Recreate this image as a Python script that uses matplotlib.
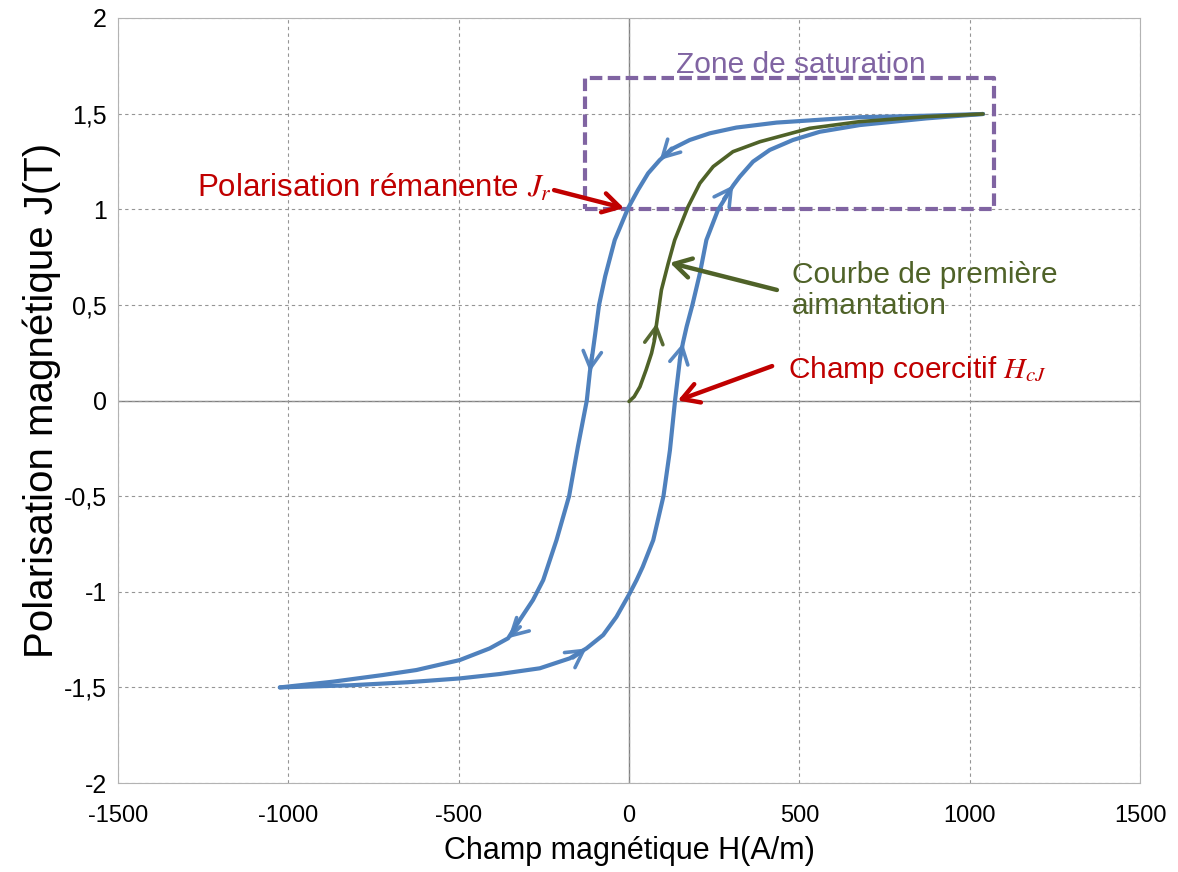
import numpy as np
import matplotlib.pyplot as plt

# Hysteresis loop data (H in A/m, J in T)
desc_H = [1039, 873, 677, 579, 433, 315, 237, 178, 129, 90, 56, 26, -3, -42, -70, -88,
          -100, -110, -115, -124, -150, -176, -213, -252, -282, -321, -355, -409, -497,
          -624, -722, -869, -1025]
desc_J = [1.498, 1.489, 1.481, 1.470, 1.453, 1.427, 1.397, 1.362, 1.318, 1.257, 1.188,
          1.10, 1.005, 0.839, 0.65, 0.50, 0.34, 0.21, 0.15, 0.0, -0.24, -0.50, -0.73,
          -0.939, -1.043, -1.148, -1.243, -1.296, -1.357, -1.409, -1.435, -1.470, -1.50]
desc_arrows = [9, 18, 26]

asc_H = [-1025, -820, -650, -497, -380, -262, -174, -125, -76, -37, 2, 22, 40, 71, 101,
         120, 135, 149, 158, 169, 186, 208, 227, 261, 291, 306, 325, 364, 413, 481, 560,
         677, 873, 1039]
asc_J = [-1.50, -1.489, -1.473, -1.453, -1.43, -1.40, -1.348, -1.296, -1.226, -1.131,
         -1.008, -0.939, -0.87, -0.73, -0.50, -0.26, 0.0, 0.21, 0.30, 0.386, 0.50, 0.665,
         0.839, 0.996, 1.083, 1.125, 1.17, 1.249, 1.31, 1.362, 1.405, 1.44, 1.475, 1.498]
asc_arrows = [7, 18, 25]

first_H = [0, 15, 32, 50, 66, 74, 81, 95, 115, 134, 173, 208, 247, 305, 384, 530, 677,
           873, 1039]
first_J = [-0.005, 0.02, 0.072, 0.16, 0.247, 0.31, 0.404, 0.578, 0.717, 0.839, 1.013,
           1.136, 1.223, 1.301, 1.353, 1.423, 1.458, 1.484, 1.498]
first_arrows = [6]

xticks = [-1500, -1000, -500, 0, 500, 1000, 1500]
yticks = [-2, -1.5, -1, -0.5, 0, 0.5, 1, 1.5, 2]
ytick_labels = ["-2", "-1,5", "-1", "-0,5", "0", "0,5", "1", "1,5", "2"]

# saturation zone (H range, J range)
sat_H = [-130, 1070]
sat_J = [1.0, 1.685]

blue = "#4F81BD"
green = "#4F6228"
red = "#C00000"
purple = "#8064A2"

plt.rcParams['font.family'] = ['Liberation Sans', 'DejaVu Sans']
plt.rcParams['mathtext.fontset'] = 'stix'
plt.rcParams['axes.unicode_minus'] = False

fig = plt.figure(figsize=(11.78, 8.72), dpi=100)
ax = fig.add_axes([0.1002, 0.102, 0.8676, 0.8774])
ax.set_xlim(-1500, 1500)
ax.set_ylim(-2, 2)

# grid and zero axes
ax.set_xticks(xticks)
ax.set_yticks(yticks)
ax.set_yticklabels(ytick_labels)
ax.grid(True, color='#959595', linestyle=(0, (3, 3)), linewidth=0.8)
ax.axhline(0, color='#808080', linewidth=1.0, zorder=1)
ax.axvline(0, color='#808080', linewidth=1.0, zorder=1)
for s in ax.spines.values():
    s.set_color('#b3b3b3')
ax.tick_params(length=0)
ax.tick_params(axis='y', labelsize=18, pad=8)
ax.tick_params(axis='x', labelsize=17, pad=16)

ax.set_xlabel("Champ magnétique H(A/m)", fontsize=22, labelpad=6)
ax.set_ylabel("Polarisation magnétique J(T)", fontsize=29, labelpad=2)

# curves
line_kw = dict(solid_capstyle='round', solid_joinstyle='round')
ax.plot(desc_H, desc_J, color=blue, linewidth=3, zorder=3, **line_kw)
ax.plot(asc_H, asc_J, color=blue, linewidth=3, zorder=3, **line_kw)
ax.plot(first_H, first_J, color=green, linewidth=2.6, zorder=4, **line_kw)


def curve_arrows(h, j, idx, color):
    # open chevron heads pointing along the curve direction
    for i in idx:
        p0 = ax.transData.transform((h[i - 1], j[i - 1]))
        p1 = ax.transData.transform((h[i + 1], j[i + 1]))
        d = (p1 - p0) / np.hypot(*(p1 - p0))
        ax.annotate('', xy=(h[i], j[i]), xytext=(-d[0] * 12, -d[1] * 12),
                    textcoords='offset points',
                    arrowprops=dict(arrowstyle='->,head_length=0.6,head_width=0.33',
                                    color=color, lw=2.6, shrinkA=0, shrinkB=0,
                                    mutation_scale=20, alpha=0.95),
                    zorder=5)


curve_arrows(desc_H, desc_J, desc_arrows, blue)
curve_arrows(asc_H, asc_J, asc_arrows, blue)
curve_arrows(first_H, first_J, first_arrows, green)

# saturation zone
ax.plot([sat_H[0], sat_H[1], sat_H[1], sat_H[0], sat_H[0]],
        [sat_J[0], sat_J[0], sat_J[1], sat_J[1], sat_J[0]],
        color=purple, linewidth=3, linestyle=(0, (3, 1.3)), zorder=2)
ax.text(505, 1.755, "Zone de saturation", color=purple, fontsize=21.5,
        ha='center', va='center')

# annotations
arrow_kw = dict(arrowstyle='->,head_length=0.6,head_width=0.35', lw=3.2,
                shrinkA=0, shrinkB=0, mutation_scale=20)
ax.text(-226, 1.11, "Polarisation rémanente $J_r$", color=red, fontsize=22.5,
        ha='right', va='center')
ax.annotate('', xy=(-15, 1.006), xytext=(-220, 1.10),
            arrowprops=dict(color=red, **arrow_kw), zorder=6)

ax.text(478, 0.575, "Courbe de première\naimantation", color=green, fontsize=21.5,
        ha='left', va='center', linespacing=1.15)
ax.annotate('', xy=(120, 0.72), xytext=(434, 0.578),
            arrowprops=dict(color=green, **arrow_kw), zorder=6)

ax.text(467, 0.16, "Champ coercitif $H_{cJ}$", color=red, fontsize=21.5,
        ha='left', va='center')
ax.annotate('', xy=(143, 0.0), xytext=(420, 0.18),
            arrowprops=dict(color=red, **arrow_kw), zorder=6)

fig.savefig("out.png", dpi=100)
